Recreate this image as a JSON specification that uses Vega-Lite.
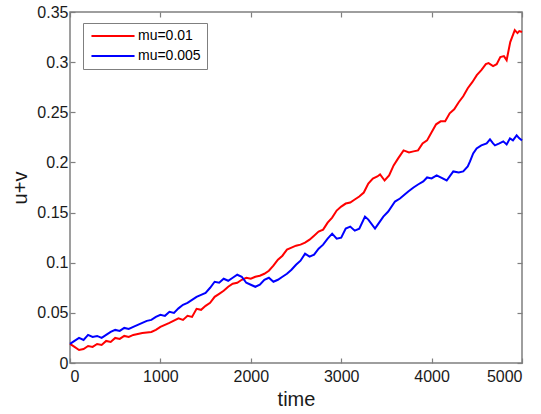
{
 "$schema": "https://vega.github.io/schema/vega-lite/v6.json",
 "width": 452, "height": 351,
 "autosize": {"type": "none"},
 "padding": {"left": 70, "top": 12, "right": 19, "bottom": 51},
 "background": "white",
 "config": {
  "view": {"stroke": "#7f7f7f", "strokeWidth": 1.5},
  "axis": {"grid": false, "domain": false, "tickColor": "#7f7f7f", "tickWidth": 1.2, "tickSize": -5,
           "labelFont": "Liberation Sans", "labelFontSize": 16, "labelColor": "#1a1a1a",
           "titleFont": "Liberation Sans", "titleFontSize": 20, "titleFontWeight": "normal", "titleColor": "#1a1a1a"}
 },
 "data": {"values": [
  {"t":0,"v":0.019,"s":"mu=0.01"},{"t":50,"v":0.016,"s":"mu=0.01"},{"t":100,"v":0.013,"s":"mu=0.01"},{"t":150,"v":0.014,"s":"mu=0.01"},{"t":200,"v":0.017,"s":"mu=0.01"},{"t":250,"v":0.016,"s":"mu=0.01"},{"t":300,"v":0.019,"s":"mu=0.01"},{"t":350,"v":0.018,"s":"mu=0.01"},{"t":400,"v":0.022,"s":"mu=0.01"},{"t":450,"v":0.021,"s":"mu=0.01"},{"t":500,"v":0.025,"s":"mu=0.01"},{"t":550,"v":0.024,"s":"mu=0.01"},{"t":600,"v":0.027,"s":"mu=0.01"},{"t":650,"v":0.026,"s":"mu=0.01"},{"t":700,"v":0.028,"s":"mu=0.01"},{"t":800,"v":0.030,"s":"mu=0.01"},{"t":900,"v":0.031,"s":"mu=0.01"},{"t":950,"v":0.033,"s":"mu=0.01"},{"t":1000,"v":0.036,"s":"mu=0.01"},{"t":1100,"v":0.040,"s":"mu=0.01"},{"t":1200,"v":0.0445,"s":"mu=0.01"},{"t":1250,"v":0.043,"s":"mu=0.01"},{"t":1300,"v":0.047,"s":"mu=0.01"},{"t":1350,"v":0.046,"s":"mu=0.01"},{"t":1400,"v":0.054,"s":"mu=0.01"},{"t":1450,"v":0.053,"s":"mu=0.01"},{"t":1500,"v":0.057,"s":"mu=0.01"},{"t":1550,"v":0.060,"s":"mu=0.01"},{"t":1600,"v":0.066,"s":"mu=0.01"},{"t":1650,"v":0.069,"s":"mu=0.01"},{"t":1700,"v":0.072,"s":"mu=0.01"},{"t":1750,"v":0.076,"s":"mu=0.01"},{"t":1800,"v":0.079,"s":"mu=0.01"},{"t":1850,"v":0.080,"s":"mu=0.01"},{"t":1900,"v":0.083,"s":"mu=0.01"},{"t":1950,"v":0.085,"s":"mu=0.01"},{"t":2000,"v":0.084,"s":"mu=0.01"},{"t":2050,"v":0.086,"s":"mu=0.01"},{"t":2100,"v":0.087,"s":"mu=0.01"},{"t":2150,"v":0.089,"s":"mu=0.01"},{"t":2200,"v":0.092,"s":"mu=0.01"},{"t":2250,"v":0.097,"s":"mu=0.01"},{"t":2300,"v":0.103,"s":"mu=0.01"},{"t":2350,"v":0.107,"s":"mu=0.01"},{"t":2400,"v":0.113,"s":"mu=0.01"},{"t":2450,"v":0.115,"s":"mu=0.01"},{"t":2500,"v":0.117,"s":"mu=0.01"},{"t":2550,"v":0.118,"s":"mu=0.01"},{"t":2600,"v":0.120,"s":"mu=0.01"},{"t":2650,"v":0.123,"s":"mu=0.01"},{"t":2700,"v":0.127,"s":"mu=0.01"},{"t":2750,"v":0.131,"s":"mu=0.01"},{"t":2800,"v":0.133,"s":"mu=0.01"},{"t":2850,"v":0.140,"s":"mu=0.01"},{"t":2900,"v":0.145,"s":"mu=0.01"},{"t":2950,"v":0.152,"s":"mu=0.01"},{"t":3000,"v":0.156,"s":"mu=0.01"},{"t":3050,"v":0.159,"s":"mu=0.01"},{"t":3100,"v":0.160,"s":"mu=0.01"},{"t":3150,"v":0.163,"s":"mu=0.01"},{"t":3200,"v":0.166,"s":"mu=0.01"},{"t":3250,"v":0.170,"s":"mu=0.01"},{"t":3300,"v":0.179,"s":"mu=0.01"},{"t":3350,"v":0.184,"s":"mu=0.01"},{"t":3400,"v":0.186,"s":"mu=0.01"},{"t":3430,"v":0.188,"s":"mu=0.01"},{"t":3480,"v":0.182,"s":"mu=0.01"},{"t":3530,"v":0.187,"s":"mu=0.01"},{"t":3580,"v":0.197,"s":"mu=0.01"},{"t":3630,"v":0.204,"s":"mu=0.01"},{"t":3690,"v":0.212,"s":"mu=0.01"},{"t":3750,"v":0.210,"s":"mu=0.01"},{"t":3800,"v":0.211,"s":"mu=0.01"},{"t":3850,"v":0.212,"s":"mu=0.01"},{"t":3900,"v":0.219,"s":"mu=0.01"},{"t":3950,"v":0.222,"s":"mu=0.01"},{"t":4000,"v":0.230,"s":"mu=0.01"},{"t":4050,"v":0.238,"s":"mu=0.01"},{"t":4100,"v":0.241,"s":"mu=0.01"},{"t":4150,"v":0.241,"s":"mu=0.01"},{"t":4200,"v":0.249,"s":"mu=0.01"},{"t":4250,"v":0.253,"s":"mu=0.01"},{"t":4300,"v":0.260,"s":"mu=0.01"},{"t":4350,"v":0.266,"s":"mu=0.01"},{"t":4400,"v":0.274,"s":"mu=0.01"},{"t":4450,"v":0.280,"s":"mu=0.01"},{"t":4500,"v":0.287,"s":"mu=0.01"},{"t":4550,"v":0.292,"s":"mu=0.01"},{"t":4600,"v":0.298,"s":"mu=0.01"},{"t":4630,"v":0.299,"s":"mu=0.01"},{"t":4680,"v":0.296,"s":"mu=0.01"},{"t":4720,"v":0.298,"s":"mu=0.01"},{"t":4760,"v":0.305,"s":"mu=0.01"},{"t":4800,"v":0.306,"s":"mu=0.01"},{"t":4830,"v":0.302,"s":"mu=0.01"},{"t":4870,"v":0.320,"s":"mu=0.01"},{"t":4920,"v":0.332,"s":"mu=0.01"},{"t":4950,"v":0.329,"s":"mu=0.01"},{"t":4970,"v":0.331,"s":"mu=0.01"},{"t":5000,"v":0.330,"s":"mu=0.01"},
  {"t":0,"v":0.019,"s":"mu=0.005"},{"t":50,"v":0.022,"s":"mu=0.005"},{"t":100,"v":0.025,"s":"mu=0.005"},{"t":150,"v":0.023,"s":"mu=0.005"},{"t":200,"v":0.028,"s":"mu=0.005"},{"t":250,"v":0.026,"s":"mu=0.005"},{"t":300,"v":0.027,"s":"mu=0.005"},{"t":350,"v":0.025,"s":"mu=0.005"},{"t":400,"v":0.028,"s":"mu=0.005"},{"t":450,"v":0.031,"s":"mu=0.005"},{"t":500,"v":0.033,"s":"mu=0.005"},{"t":550,"v":0.032,"s":"mu=0.005"},{"t":600,"v":0.035,"s":"mu=0.005"},{"t":650,"v":0.034,"s":"mu=0.005"},{"t":700,"v":0.036,"s":"mu=0.005"},{"t":750,"v":0.038,"s":"mu=0.005"},{"t":800,"v":0.040,"s":"mu=0.005"},{"t":850,"v":0.042,"s":"mu=0.005"},{"t":900,"v":0.043,"s":"mu=0.005"},{"t":950,"v":0.046,"s":"mu=0.005"},{"t":1000,"v":0.048,"s":"mu=0.005"},{"t":1050,"v":0.047,"s":"mu=0.005"},{"t":1100,"v":0.051,"s":"mu=0.005"},{"t":1150,"v":0.050,"s":"mu=0.005"},{"t":1200,"v":0.0545,"s":"mu=0.005"},{"t":1250,"v":0.058,"s":"mu=0.005"},{"t":1300,"v":0.060,"s":"mu=0.005"},{"t":1350,"v":0.063,"s":"mu=0.005"},{"t":1400,"v":0.066,"s":"mu=0.005"},{"t":1450,"v":0.068,"s":"mu=0.005"},{"t":1500,"v":0.070,"s":"mu=0.005"},{"t":1550,"v":0.075,"s":"mu=0.005"},{"t":1600,"v":0.081,"s":"mu=0.005"},{"t":1650,"v":0.080,"s":"mu=0.005"},{"t":1700,"v":0.084,"s":"mu=0.005"},{"t":1750,"v":0.082,"s":"mu=0.005"},{"t":1800,"v":0.085,"s":"mu=0.005"},{"t":1850,"v":0.088,"s":"mu=0.005"},{"t":1900,"v":0.086,"s":"mu=0.005"},{"t":1950,"v":0.080,"s":"mu=0.005"},{"t":2000,"v":0.078,"s":"mu=0.005"},{"t":2050,"v":0.076,"s":"mu=0.005"},{"t":2100,"v":0.078,"s":"mu=0.005"},{"t":2150,"v":0.083,"s":"mu=0.005"},{"t":2200,"v":0.085,"s":"mu=0.005"},{"t":2250,"v":0.081,"s":"mu=0.005"},{"t":2300,"v":0.083,"s":"mu=0.005"},{"t":2350,"v":0.086,"s":"mu=0.005"},{"t":2400,"v":0.089,"s":"mu=0.005"},{"t":2450,"v":0.093,"s":"mu=0.005"},{"t":2500,"v":0.098,"s":"mu=0.005"},{"t":2550,"v":0.102,"s":"mu=0.005"},{"t":2600,"v":0.109,"s":"mu=0.005"},{"t":2650,"v":0.106,"s":"mu=0.005"},{"t":2700,"v":0.108,"s":"mu=0.005"},{"t":2750,"v":0.114,"s":"mu=0.005"},{"t":2800,"v":0.118,"s":"mu=0.005"},{"t":2850,"v":0.124,"s":"mu=0.005"},{"t":2900,"v":0.129,"s":"mu=0.005"},{"t":2950,"v":0.124,"s":"mu=0.005"},{"t":3000,"v":0.125,"s":"mu=0.005"},{"t":3050,"v":0.134,"s":"mu=0.005"},{"t":3100,"v":0.136,"s":"mu=0.005"},{"t":3150,"v":0.132,"s":"mu=0.005"},{"t":3200,"v":0.134,"s":"mu=0.005"},{"t":3263,"v":0.146,"s":"mu=0.005"},{"t":3300,"v":0.143,"s":"mu=0.005"},{"t":3374,"v":0.134,"s":"mu=0.005"},{"t":3420,"v":0.140,"s":"mu=0.005"},{"t":3466,"v":0.146,"s":"mu=0.005"},{"t":3520,"v":0.151,"s":"mu=0.005"},{"t":3595,"v":0.161,"s":"mu=0.005"},{"t":3650,"v":0.164,"s":"mu=0.005"},{"t":3742,"v":0.171,"s":"mu=0.005"},{"t":3800,"v":0.175,"s":"mu=0.005"},{"t":3850,"v":0.178,"s":"mu=0.005"},{"t":3908,"v":0.181,"s":"mu=0.005"},{"t":3950,"v":0.185,"s":"mu=0.005"},{"t":4000,"v":0.184,"s":"mu=0.005"},{"t":4056,"v":0.187,"s":"mu=0.005"},{"t":4100,"v":0.185,"s":"mu=0.005"},{"t":4167,"v":0.182,"s":"mu=0.005"},{"t":4200,"v":0.186,"s":"mu=0.005"},{"t":4240,"v":0.191,"s":"mu=0.005"},{"t":4300,"v":0.190,"s":"mu=0.005"},{"t":4350,"v":0.191,"s":"mu=0.005"},{"t":4400,"v":0.196,"s":"mu=0.005"},{"t":4425,"v":0.201,"s":"mu=0.005"},{"t":4460,"v":0.209,"s":"mu=0.005"},{"t":4498,"v":0.214,"s":"mu=0.005"},{"t":4550,"v":0.217,"s":"mu=0.005"},{"t":4609,"v":0.219,"s":"mu=0.005"},{"t":4646,"v":0.223,"s":"mu=0.005"},{"t":4680,"v":0.219,"s":"mu=0.005"},{"t":4701,"v":0.217,"s":"mu=0.005"},{"t":4750,"v":0.219,"s":"mu=0.005"},{"t":4793,"v":0.221,"s":"mu=0.005"},{"t":4830,"v":0.218,"s":"mu=0.005"},{"t":4867,"v":0.224,"s":"mu=0.005"},{"t":4900,"v":0.222,"s":"mu=0.005"},{"t":4941,"v":0.227,"s":"mu=0.005"},{"t":4970,"v":0.224,"s":"mu=0.005"},{"t":5000,"v":0.222,"s":"mu=0.005"}
 ]},
 "layer": [
  {
   "mark": {"type": "line", "strokeWidth": 2},
   "encoding": {
    "x": {"field": "t", "type": "quantitative", "scale": {"domain": [0, 5000], "nice": false},
          "axis": {"orient": "bottom", "values": [0,1000,2000,3000,4000,5000], "format": "d", "title": "time", "labelPadding": 10, "titlePadding": 5}},
    "y": {"field": "v", "type": "quantitative", "scale": {"domain": [0, 0.35], "nice": false},
          "axis": {"orient": "left", "values": [0,0.05,0.1,0.15,0.2,0.25,0.3,0.35], "format": "~g", "title": "u+v", "labelPadding": 7, "titlePadding": 6}},
    "color": {"field": "s", "type": "nominal",
              "scale": {"domain": ["mu=0.01", "mu=0.005"], "range": ["#ff0000", "#0000ff"]},
              "legend": {"orient": "none", "legendX": 13, "legendY": 11, "title": null,
                         "symbolType": "M-4,0L4,0", "symbolSize": 116, "symbolStrokeWidth": 2, "symbolOffset": 17,
                         "labelOffset": 18, "labelFont": "Liberation Sans", "labelFontSize": 14, "labelColor": "#000000",
                         "padding": 6, "rowPadding": 6, "strokeColor": "#7f7f7f", "fillColor": "white"}}
   }
  },
  {
   "mark": {"type": "line", "opacity": 0},
   "encoding": {
    "x": {"field": "t", "type": "quantitative", "axis": {"orient": "top", "values": [0,1000,2000,3000,4000,5000], "labels": false, "title": null}},
    "y": {"field": "v", "type": "quantitative", "axis": {"orient": "right", "values": [0,0.05,0.1,0.15,0.2,0.25,0.3,0.35], "labels": false, "title": null}},
    "detail": {"field": "s"}
   }
  }
 ],
 "resolve": {"axis": {"x": "independent", "y": "independent"}}
}
